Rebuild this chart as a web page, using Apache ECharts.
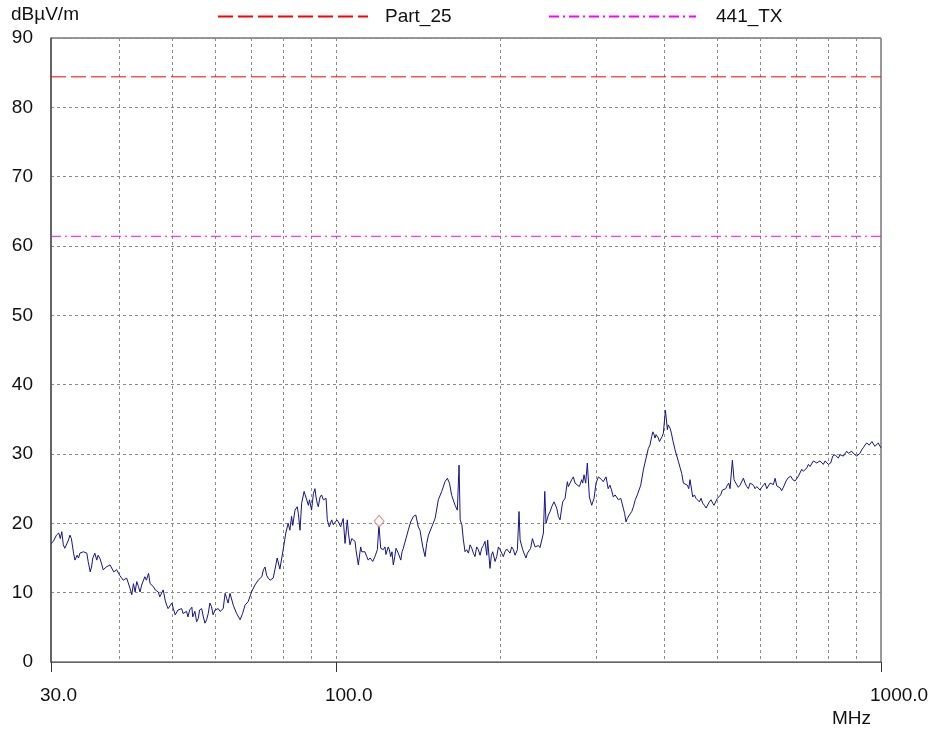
<!DOCTYPE html>
<html><head><meta charset="utf-8">
<script src="https://cdn.jsdelivr.net/npm/echarts@6/dist/echarts.min.js"></script>
<style>html,body{margin:0;padding:0;background:#fff}#c{width:938px;height:733px}</style>
</head><body><div id="c"></div>
<script>
// Measured trace: [frequency (MHz), level (dBµV/m)]
const tracePoints = [
[30.0,17.1],[30.3,17.4],[30.7,18.3],[31.0,18.6],[31.2,17.8],[31.4,18.8],[31.6,16.9],[31.8,16.4],[32.0,16.6],[32.3,17.6],
[32.5,18.3],[32.7,17.8],[33.0,15.7],[33.2,14.7],[33.5,15.4],[33.7,15.0],[33.9,15.7],[34.4,15.9],[34.9,15.7],[35.1,14.5],
[35.4,13.0],[35.6,13.7],[35.8,15.0],[36.1,15.7],[36.4,14.7],[36.6,15.4],[36.9,14.9],[37.2,14.0],[37.4,13.3],[37.9,13.7],
[38.5,14.0],[39.1,13.0],[39.6,13.3],[40.1,12.5],[40.7,11.8],[41.3,12.1],[41.9,10.6],[42.2,9.7],[42.5,11.3],[42.8,10.1],
[43.1,11.6],[43.4,10.9],[43.7,10.1],[44.0,11.1],[44.6,12.3],[44.9,11.8],[45.3,12.8],[45.6,11.3],[46.2,10.9],[46.6,10.4],
[47.2,10.1],[47.5,9.4],[48.2,10.4],[48.6,8.9],[48.9,8.2],[49.2,7.7],[50.0,8.5],[50.3,7.7],[50.7,6.8],[51.0,7.0],
[51.3,7.5],[52.1,7.7],[52.4,7.0],[53.2,7.3],[53.5,6.5],[53.9,7.5],[54.4,7.9],[54.6,6.5],[55.1,7.3],[55.5,5.8],
[55.9,6.3],[56.2,7.5],[56.7,7.7],[57.1,6.5],[57.5,5.6],[57.9,6.1],[58.3,7.0],[58.7,8.5],[59.1,8.0],[59.5,6.8],
[60.0,7.5],[60.8,7.7],[61.3,7.3],[62.1,7.7],[62.6,9.9],[63.0,9.2],[63.4,8.5],
[63.9,9.9],[64.8,8.2],[65.7,7.0],[66.7,6.1],[67.4,7.0],[68.1,8.2],[69.0,8.7],[70.0,10.1],[71.0,11.1],[72.0,11.8],
[73.1,12.3],[73.6,13.3],[74.1,13.7],[74.6,12.5],[75.1,12.1],[75.7,11.8],[76.2,11.6],[76.7,12.1],[77.3,13.4],[78.0,15.0],
[78.9,13.4],[80.0,16.2],[80.9,18.6],[81.7,20.0],[82.3,19.0],[82.9,21.0],[83.3,19.7],[84.1,21.9],[84.9,22.4],[85.3,21.4],
[85.9,19.0],[86.5,22.9],[87.4,24.6],[87.8,24.1],[88.4,24.3],[89.0,22.6],[89.4,23.4],[90.2,21.9],[90.9,24.3],[91.5,25.0],
[91.9,23.8],[92.4,22.9],[92.8,22.4],[93.5,23.8],[94.1,24.1],[94.8,23.4],[95.9,23.6],[96.4,20.5],[97.2,19.5],[98.2,20.5],
[98.9,19.8],[99.6,20.0],[100.4,20.5],[101.0,20.2],[102.0,19.5],[103.1,20.7],[103.9,17.1],[104.9,20.5],[105.4,18.6],[106.1,16.9],
[106.9,17.8],[107.6,17.6],[108.4,17.4],[108.8,16.2],[109.9,14.0],[111.0,16.6],[111.5,15.9],[112.2,15.7],[113.0,15.9],[113.9,15.2],
[114.6,14.7],[115.5,15.0],[116.3,15.2],[116.8,14.5],[117.9,15.2],[119.1,16.2],[119.9,19.8],[120.8,16.4],[122.1,16.2],[123.0,16.6],
[123.5,15.5],[124.7,16.6],[125.3,16.2],[126.0,15.2],[126.7,15.9],[127.4,14.0],[128.2,15.2],[128.9,16.4],[129.6,16.6],[130.1,15.7],
[130.7,15.5],[131.5,14.7],[132.2,15.9],[132.9,16.4],[134.4,17.8],[135.7,19.0],[137.1,20.2],[138.7,21.0],[140.1,21.2],[141.6,19.5],
[142.6,19.0],[144.3,16.6],[145.7,15.2],[146.7,17.1],[147.8,18.3],[149.9,19.5],[152.0,20.7],[154.1,23.4],[156.3,24.6],[158.5,26.0],
[160.1,26.5],[161.5,25.8],[163.1,24.0],[165.4,22.6],[167.0,21.9],[168.2,28.4],[169.0,20.5],[170.2,19.8],[171.3,17.6],[172.5,15.9],
[173.7,16.2],[175.0,15.7],[176.2,16.9],[177.5,16.4],[178.7,15.7],[179.9,15.2],[181.2,16.6],[182.5,16.2],[183.8,15.4],[185.1,16.4],
[186.4,16.8],[187.7,17.4],[189.1,15.4],[189.8,17.6],[191.7,13.5],[192.8,15.4],[193.9,15.9],[195.0,15.7],[195.8,14.5],[197.2,15.2],
[198.6,16.6],[200.0,16.2],[201.4,15.7],[202.8,15.2],[204.2,15.9],[205.7,16.3],[207.1,16.2],[208.6,15.7],[210.1,16.6],[211.6,16.2],
[213.1,15.4],[215.2,16.2],[216.7,21.7],[217.7,17.6],[220.1,16.2],[221.3,15.7],[223.2,15.0],[224.5,15.7],[226.4,15.9],[227.6,16.4],
[229.3,17.8],[231.9,16.6],[233.5,16.7],[235.2,16.8],[236.8,16.5],[238.6,16.6],[240.2,18.6],[241.6,24.6],[242.9,20.0],[245.3,21.2],
[247.1,21.7],[248.8,22.4],[251.2,23.1],[254.1,22.2],[255.9,21.0],[257.7,20.5],[259.5,22.2],[260.6,23.1],[263.2,23.6],[265.8,26.0],
[266.9,25.3],[268.8,25.5],[270.7,26.3],[272.6,26.7],[274.6,25.8],[276.5,26.0],[279.6,25.3],[282.4,26.3],[283.6,25.8],[285.2,27.0],
[287.2,25.8],[289.2,28.7],[291.7,23.8],[294.6,22.6],[297.5,23.6],[300.0,25.8],[303.0,26.7],
[307.2,26.3],[309.3,26.0],[313.0,26.7],[315.8,25.0],[318.2,25.5],[320.3,24.8],[322.8,23.8],[325.1,24.1],[327.4,24.3],[329.8,23.4],
[333.1,23.6],[334.9,22.9],[336.6,22.2],[338.6,21.4],[340.5,20.2],[342.4,20.7],[345.4,21.2],[348.9,21.7],[351.4,22.4],[354.1,23.4],
[357.2,24.1],[362.4,25.5],[366.4,27.7],[370.6,29.4],[374.2,30.8],[376.8,31.3],[379.5,32.5],[381.4,33.2],[383.3,32.8],[384.9,32.3],
[386.6,32.8],[388.7,33.0],[390.4,32.3],[392.2,31.8],[394.4,31.8],[396.6,32.5],[398.7,33.0],[402.2,36.3],[405.6,33.5],[407.1,34.2],
[410.3,33.7],[412.5,33.0],[414.9,32.0],[418.9,30.6],[424.9,28.9],[430.9,27.2],[433.9,25.8],[437.0,26.0],[441.3,25.5],[443.8,25.0],
[446.3,26.3],[451.4,23.8],[454.6,24.1],[457.8,23.6],[461.1,23.4],[464.2,23.1],[467.5,23.6],[470.9,22.9],[474.2,22.6],[477.5,22.2],
[481.0,22.4],[484.3,23.1],[487.7,23.4],[491.2,22.9],[493.8,22.6],[496.0,22.4],[500.9,23.6],[504.5,23.8],[507.9,24.1],[511.6,24.8],
[515.3,24.8],[519.0,25.0],[522.5,25.5],[525.6,25.8],[528.5,25.0],[533.7,29.1],[537.5,26.3],[539.8,26.0],[543.6,25.8],[547.3,25.2],
[551.3,25.5],[555.2,25.5],[559.1,26.5],[563.1,25.8],[567.1,25.3],[571.0,25.0],[575.2,25.8],[579.2,26.0],[583.4,25.5],[587.4,25.0],
[591.7,25.3],[595.7,25.5],[599.9,24.8],[604.2,25.2],[608.4,25.5],[612.8,25.8],[617.1,25.0],[621.5,24.8],[625.9,25.8],[630.4,26.0],
[634.7,25.6],[639.3,26.5],[643.9,25.4],
[653.1,25.1],[657.4,24.7],[663.9,25.4],[669.5,26.1],[676.1,26.6],[682.9,26.8],[688.7,26.3],[695.4,26.1],[700.4,25.9],[705.4,26.8],
[710.4,27.0],[715.4,27.8],[720.4,27.5],[725.5,27.5],[730.8,28.0],[735.9,28.5],[741.1,28.2],[746.4,28.2],[751.4,29.0],[756.7,29.2],
[762.4,28.7],[767.4,28.5],[772.8,29.0],[783.8,28.5],[789.5,29.0],[795.1,29.2],[800.6,28.5],[808.5,28.7],[815.6,29.7],[823.4,29.9],
[829.5,29.7],[835.0,29.4],[841.0,29.9],[846.9,30.1],[852.9,29.7],[858.8,29.9],[865.1,30.4],[870.9,30.1],[877.3,29.9],[883.6,30.4],
[889.6,30.1],[896.0,29.9],[902.4,29.7],[908.6,29.7],[915.1,30.1],[921.7,30.6],[927.8,30.9],[934.7,31.3],[941.2,31.6],[947.7,31.8],
[951.7,31.3],[957.5,31.1],[962.5,31.8],[968.0,31.6],[974.7,31.1],[981.9,30.9],[988.5,31.6],[992.8,31.3],[1000.0,30.9]
];
const limitNames = ['Part_25', '441_TX'];
const limitPart25 = [84.4];
const limit441TX = [61.4];
const markerFreq = [120.0];
const markerLevel = [20.3];
const xLabelFreqs = [30, 100, 1000];
const xGridFreqs = [40, 50, 60, 70, 80, 90, 100, 200, 300, 400, 500, 600, 700, 800, 900];
const yTickLabels = [0, 10, 20, 30, 40, 50, 60, 70, 80, 90];

const lg = v => Math.log10(v);
const fMin = xLabelFreqs[0], fMax = xLabelFreqs[xLabelFreqs.length - 1];
const xMin = lg(fMin), xMax = lg(fMax);
const FONT = 'Liberation Sans, Arial, sans-serif';

const chart = echarts.init(document.getElementById('c'));
chart.setOption({
  animation: false,
  backgroundColor: '#fff',
  title: [
    { text: 'dBµV/m', left: 11, top: 5, padding: 0,
      textStyle: { fontSize: 19, fontWeight: 'normal', color: '#111', fontFamily: FONT } },
    { text: 'MHz', left: 832, top: 709, padding: 0,
      textStyle: { fontSize: 19, fontWeight: 'normal', color: '#111', fontFamily: FONT } }
  ],
  legend: [
    { data: [limitNames[0]], left: 217, top: 7, padding: 0, itemWidth: 150, itemHeight: 12,
      itemStyle: { opacity: 0 },
      textStyle: { fontSize: 19, color: '#111', fontFamily: FONT, padding: [0, 0, 0, 12] } },
    { data: [limitNames[1]], left: 548, top: 7, padding: 0, itemWidth: 147, itemHeight: 12,
      itemStyle: { opacity: 0 },
      textStyle: { fontSize: 19, color: '#111', fontFamily: FONT, padding: [0, 0, 0, 15] } }
  ],
  grid: { left: 51, right: 57, top: 38, bottom: 71, show: true, borderColor: '#333', borderWidth: 1, containLabel: false },
  xAxis: [
    { type: 'value', min: xMin, max: xMax, position: 'bottom',
      axisLine: { show: false }, axisLabel: { show: false },
      axisTick: { show: false, customValues: xGridFreqs.map(lg) },
      splitLine: { show: true, lineStyle: { color: '#8a8a8a', type: [3, 3], width: 1 } } },
    { type: 'value', min: xMin, max: xMax, position: 'bottom',
      axisLine: { show: true, lineStyle: { color: '#666', width: 1 } },
      axisTick: { show: true, length: 10, customValues: xLabelFreqs.map(lg), lineStyle: { color: '#333' } },
      axisLabel: { show: true, customValues: xLabelFreqs.map(lg), margin: 24, align: 'left', padding: [0, 0, 0, -11],
        fontSize: 19, color: '#111', fontFamily: FONT,
        formatter: v => Math.pow(10, v).toFixed(1) },
      splitLine: { show: false } }
  ],
  yAxis: {
    type: 'value', min: yTickLabels[0], max: yTickLabels[yTickLabels.length - 1], interval: 10,
    axisLine: { show: true, lineStyle: { color: '#555', width: 1.5 } },
    axisTick: { show: false },
    axisLabel: { margin: 18, fontSize: 19, color: '#111', fontFamily: FONT },
    splitLine: { show: true, lineStyle: { color: '#8a8a8a', type: [3, 3], width: 1 } }
  },
  series: [
    { name: 'trace', type: 'line', xAxisIndex: 1, symbol: 'none', showSymbol: false,
      data: tracePoints.map(p => [lg(p[0]), p[1]]),
      lineStyle: { color: '#14148c', width: 1 }, z: 3 },
    { name: limitNames[0], type: 'line', xAxisIndex: 1, symbol: 'none',
      data: [[xMin, limitPart25[0]], [xMax, limitPart25[0]]],
      itemStyle: { color: '#ff0000' },
      lineStyle: { color: '#ff0000', width: 1, type: [15, 5] }, z: 4 },
    { name: limitNames[1], type: 'line', xAxisIndex: 1, symbol: 'none',
      data: [[xMin, limit441TX[0]], [xMax, limit441TX[0]]],
      itemStyle: { color: '#ff00ff' },
      lineStyle: { color: '#ff00ff', width: 1, type: [10, 4, 2, 4] }, z: 4 },
    { name: 'marker', type: 'scatter', xAxisIndex: 1, symbol: 'diamond', symbolSize: [10, 12],
      data: markerFreq.map((f, i) => [lg(f), markerLevel[i]]),
      itemStyle: { color: '#ffffff', borderColor: '#f07070', borderWidth: 1 }, z: 5 }
  ]
});
</script>
</body></html>
